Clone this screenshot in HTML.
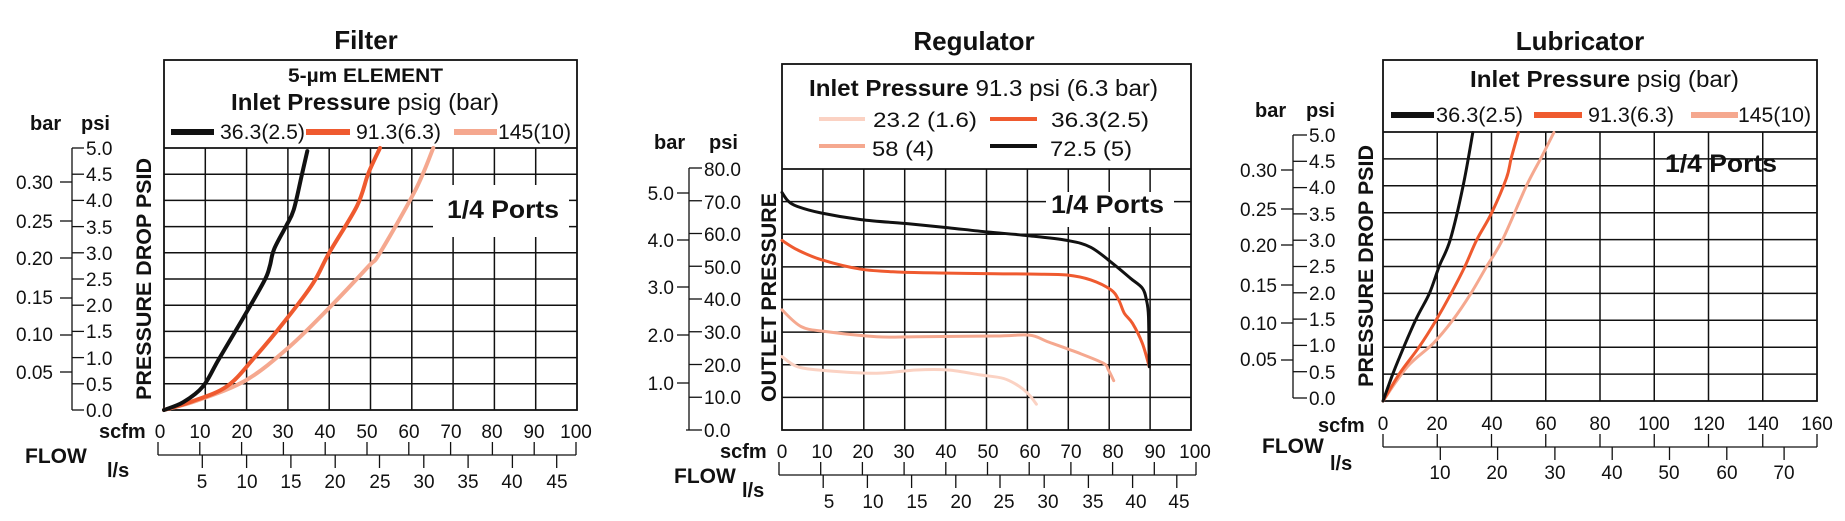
<!DOCTYPE html>
<html><head><meta charset="utf-8"><style>
html,body{margin:0;padding:0;background:#fff}
svg{display:block}
text{font-family:"Liberation Sans",Arial,sans-serif;fill:#111}
.t{font-size:26px;font-weight:bold}
.b{font-weight:bold}
.n{font-size:19px}
.lg{font-size:21px}
</style></head><body>
<svg id="s" width="1845" height="521" viewBox="0 0 1845 521" xmlns="http://www.w3.org/2000/svg">
<g id="g"></g>
<!-- ============ FILTER ============ -->
<text class="t" x="366" y="49" text-anchor="middle">Filter</text>
<text class="b" x="288" y="82" font-size="19" textLength="155" lengthAdjust="spacingAndGlyphs">5-µm ELEMENT</text>
<text x="231" y="110" font-size="23" textLength="268" lengthAdjust="spacingAndGlyphs"><tspan class="b">Inlet Pressure</tspan> psig (bar)</text>
<text class="lg" x="220" y="139" textLength="85" lengthAdjust="spacingAndGlyphs">36.3(2.5)</text>
<text class="lg" x="356" y="139" textLength="85" lengthAdjust="spacingAndGlyphs">91.3(6.3)</text>
<text class="lg" x="498" y="139" textLength="73" lengthAdjust="spacingAndGlyphs">145(10)</text>
<text class="b" x="447" y="218" font-size="25" textLength="112" lengthAdjust="spacingAndGlyphs">1/4 Ports</text>
<text class="b" x="30" y="130" font-size="20">bar</text>
<text class="b" x="81" y="130" font-size="20">psi</text>
<g class="n">
<text x="86" y="155">5.0</text><text x="86" y="181">4.5</text><text x="86" y="207">4.0</text><text x="86" y="234">3.5</text><text x="86" y="260">3.0</text><text x="86" y="286">2.5</text><text x="86" y="312">2.0</text><text x="86" y="338">1.5</text><text x="86" y="365">1.0</text><text x="86" y="391">0.5</text><text x="86" y="417">0.0</text>
</g>
<g class="n" text-anchor="end">
<text x="53" y="189">0.30</text><text x="53" y="228">0.25</text><text x="53" y="265">0.20</text><text x="53" y="304">0.15</text><text x="53" y="341">0.10</text><text x="53" y="379">0.05</text>
</g>
<text class="b" font-size="21" transform="translate(151,400) rotate(-90)" textLength="242" lengthAdjust="spacingAndGlyphs">PRESSURE DROP PSID</text>
<text class="b" x="99" y="438" font-size="20">scfm</text>
<text class="b" x="25" y="463" font-size="21">FLOW</text>
<text class="b" x="107" y="477" font-size="20">l/s</text>
<g class="n" text-anchor="middle">
<text x="160" y="438">0</text><text x="200" y="438">10</text><text x="242" y="438">20</text><text x="283" y="438">30</text><text x="325" y="438">40</text><text x="367" y="438">50</text><text x="409" y="438">60</text><text x="451" y="438">70</text><text x="492" y="438">80</text><text x="534" y="438">90</text><text x="576" y="438">100</text>
<text x="202" y="488">5</text><text x="247" y="488">10</text><text x="291" y="488">15</text><text x="335" y="488">20</text><text x="380" y="488">25</text><text x="424" y="488">30</text><text x="468" y="488">35</text><text x="512" y="488">40</text><text x="557" y="488">45</text>
</g>
<!-- ============ REGULATOR ============ -->
<text class="t" x="974" y="50" text-anchor="middle">Regulator</text>
<text x="809" y="96" font-size="23" textLength="349" lengthAdjust="spacingAndGlyphs"><tspan class="b">Inlet Pressure</tspan> 91.3 psi (6.3 bar)</text>
<text class="lg" x="873" y="127" textLength="104" lengthAdjust="spacingAndGlyphs">23.2 (1.6)</text>
<text class="lg" x="1051" y="127" textLength="98" lengthAdjust="spacingAndGlyphs">36.3(2.5)</text>
<text class="lg" x="872" y="156" textLength="62" lengthAdjust="spacingAndGlyphs">58 (4)</text>
<text class="lg" x="1050" y="156" textLength="82" lengthAdjust="spacingAndGlyphs">72.5 (5)</text>
<text class="b" x="1051" y="213" font-size="25" textLength="113" lengthAdjust="spacingAndGlyphs">1/4 Ports</text>
<text class="b" x="654" y="149" font-size="20">bar</text>
<text class="b" x="709" y="149" font-size="20">psi</text>
<g class="n">
<text x="704" y="176">80.0</text><text x="704" y="209">70.0</text><text x="704" y="241">60.0</text><text x="704" y="274">50.0</text><text x="704" y="306">40.0</text><text x="704" y="339">30.0</text><text x="704" y="372">20.0</text><text x="704" y="404">10.0</text><text x="704" y="437">0.0</text>
</g>
<g class="n" text-anchor="end">
<text x="674" y="200">5.0</text><text x="674" y="247">4.0</text><text x="674" y="294">3.0</text><text x="674" y="342">2.0</text><text x="674" y="390">1.0</text>
</g>
<text class="b" font-size="21" transform="translate(776,402) rotate(-90)" textLength="209" lengthAdjust="spacingAndGlyphs">OUTLET PRESSURE</text>
<text class="b" x="720" y="458" font-size="20">scfm</text>
<text class="b" x="674" y="483" font-size="21">FLOW</text>
<text class="b" x="742" y="497" font-size="20">l/s</text>
<g class="n" text-anchor="middle">
<text x="782" y="458">0</text><text x="822" y="458">10</text><text x="863" y="458">20</text><text x="904" y="458">30</text><text x="946" y="458">40</text><text x="988" y="458">50</text><text x="1030" y="458">60</text><text x="1071" y="458">70</text><text x="1113" y="458">80</text><text x="1155" y="458">90</text><text x="1195" y="458">100</text>
<text x="829" y="508">5</text><text x="873" y="508">10</text><text x="917" y="508">15</text><text x="961" y="508">20</text><text x="1004" y="508">25</text><text x="1048" y="508">30</text><text x="1093" y="508">35</text><text x="1136" y="508">40</text><text x="1179" y="508">45</text>
</g>
<!-- ============ LUBRICATOR ============ -->
<text class="t" x="1580" y="50" text-anchor="middle">Lubricator</text>
<text x="1470" y="87" font-size="23" textLength="269" lengthAdjust="spacingAndGlyphs"><tspan class="b">Inlet Pressure</tspan> psig (bar)</text>
<text class="lg" x="1436" y="122" textLength="87" lengthAdjust="spacingAndGlyphs">36.3(2.5)</text>
<text class="lg" x="1588" y="122" textLength="86" lengthAdjust="spacingAndGlyphs">91.3(6.3)</text>
<text class="lg" x="1738" y="122" textLength="73" lengthAdjust="spacingAndGlyphs">145(10)</text>
<text class="b" x="1665" y="172" font-size="25" textLength="112" lengthAdjust="spacingAndGlyphs">1/4 Ports</text>
<text class="b" x="1255" y="117" font-size="20">bar</text>
<text class="b" x="1306" y="117" font-size="20">psi</text>
<g class="n">
<text x="1309" y="142">5.0</text><text x="1309" y="168">4.5</text><text x="1309" y="194">4.0</text><text x="1309" y="221">3.5</text><text x="1309" y="247">3.0</text><text x="1309" y="273">2.5</text><text x="1309" y="300">2.0</text><text x="1309" y="326">1.5</text><text x="1309" y="352">1.0</text><text x="1309" y="379">0.5</text><text x="1309" y="405">0.0</text>
</g>
<g class="n" text-anchor="end">
<text x="1277" y="177">0.30</text><text x="1277" y="216">0.25</text><text x="1277" y="252">0.20</text><text x="1277" y="292">0.15</text><text x="1277" y="330">0.10</text><text x="1277" y="366">0.05</text>
</g>
<text class="b" font-size="21" transform="translate(1373,387) rotate(-90)" textLength="242" lengthAdjust="spacingAndGlyphs">PRESSURE DROP PSID</text>
<text class="b" x="1318" y="432" font-size="20">scfm</text>
<text class="b" x="1262" y="453" font-size="21">FLOW</text>
<text class="b" x="1330" y="470" font-size="20">l/s</text>
<g class="n" text-anchor="middle">
<text x="1383" y="430">0</text><text x="1437" y="430">20</text><text x="1492" y="430">40</text><text x="1546" y="430">60</text><text x="1600" y="430">80</text><text x="1654" y="430">100</text><text x="1709" y="430">120</text><text x="1763" y="430">140</text><text x="1817" y="430">160</text>
<text x="1440" y="479">10</text><text x="1497" y="479">20</text><text x="1555" y="479">30</text><text x="1612" y="479">40</text><text x="1669" y="479">50</text><text x="1727" y="479">60</text><text x="1784" y="479">70</text>
</g>
</svg>
<script>
var NS="http://www.w3.org/2000/svg",g=document.getElementById("g");
function el(n,a){var e=document.createElementNS(NS,n);for(var k in a)e.setAttribute(k,a[k]);g.appendChild(e);return e;}
function L(x1,y1,x2,y2,w,c){el("line",{x1:x1,y1:y1,x2:x2,y2:y2,stroke:c||"#111","stroke-width":w||1.5});}
function smooth(P){
  var d="M"+P[0][0].toFixed(1)+","+P[0][1].toFixed(1);
  for(var i=0;i<P.length-1;i++){
    var p0=P[i>0?i-1:0],p1=P[i],p2=P[i+1],p3=P[i+2<P.length?i+2:i+1];
    var c1x=p1[0]+(p2[0]-p0[0])/6,c1y=p1[1]+(p2[1]-p0[1])/6,c2x=p2[0]-(p3[0]-p1[0])/6,c2y=p2[1]-(p3[1]-p1[1])/6;
    d+=" C"+c1x.toFixed(1)+","+c1y.toFixed(1)+" "+c2x.toFixed(1)+","+c2y.toFixed(1)+" "+p2[0].toFixed(1)+","+p2[1].toFixed(1);
  }
  return d;
}
function plot(p){
  for(var i=1;i<p.nx;i++){var x=p.x0+(p.x1-p.x0)*i/p.nx;L(x,p.y0,x,p.y1);}
  for(var j=1;j<p.ny;j++){var y=p.y0+(p.y1-p.y0)*j/p.ny;L(p.x0,y,p.x1,y);}
  if(p.box)el("rect",{x:p.box[0],y:p.box[1],width:p.box[2],height:p.box[3],fill:"#fff"});
  el("rect",{x:p.x0,y:p.ly,width:p.x1-p.x0,height:p.y1-p.ly,fill:"none",stroke:"#111","stroke-width":1.8});
  L(p.x0,p.y0,p.x1,p.y0,1.8);
  p.series.forEach(function(s){
    var P=s.d.map(function(q){return [p.x0+(p.x1-p.x0)*q[0]/p.xm,p.y1-(p.y1-p.y0)*q[1]/p.ym];});
    el("path",{d:p.sm?smooth(P):smooth(P),fill:"none",stroke:s.c,"stroke-width":s.w,"stroke-linejoin":"round","stroke-linecap":"round"});
  });
  p.leg.forEach(function(l){L(l[0],l[2],l[1],l[2],l[4],l[3]);});
}
var K="#111",O="#ef5a2f",P="#f5a88f",PL="#fbd2c3";
plot({x0:164,x1:577,y0:148,y1:410,ly:60,nx:10,ny:10,xm:100,ym:5,box:[433,185,136,52],
 series:[
 {c:P,w:4,d:[[0,0],[8,.18],[19.9,.57],[30.4,1.21],[39.9,1.94],[49.5,2.74],[52.3,3],[60.9,4.2],[65.2,5]]},
 {c:O,w:4,d:[[0,0],[7,.17],[15.2,.45],[21.8,.99],[29.5,1.72],[36.1,2.42],[40,3],[46.7,3.89],[49.5,4.52],[52.3,5]]},
 {c:K,w:4,d:[[0,0],[4.7,.15],[9.45,.45],[13.2,.96],[18.9,1.72],[24.2,2.45],[25.6,2.74],[26.6,3.06],[29.5,3.5],[31.4,3.82],[33.3,4.46],[34.7,4.94]]}],
 leg:[[171,214,132,K,6],[306,350,132,O,6],[454,497,132,P,6]]});
plot({x0:782,x1:1191,y0:169,y1:430,ly:64,nx:10,ny:8,xm:100,ym:80,box:[1046,192,128,35],
 series:[
 {c:PL,w:3,d:[[0,22.5],[3.8,19.4],[10.6,18.2],[23.2,17.4],[32.8,18.4],[40.6,18.4],[48.4,16.9],[54.2,15.8],[58.1,13.3],[60.5,10.7],[62.2,7.9]]},
 {c:P,w:3,d:[[0,36.8],[4.7,31.7],[10.6,30.2],[23.2,28.6],[32.8,28.6],[52.2,28.8],[60.5,29.1],[64.9,27.1],[71.7,24],[78.5,20.5],[79.8,18.4],[81.1,15.1]]},
 {c:O,w:3,d:[[0,58.1],[3.8,55.2],[9.6,52.2],[19.3,49.3],[29,48.4],[40.6,48.1],[52.2,47.9],[61.9,47.8],[69.7,47.5],[75.5,46],[80.4,43],[82.3,39.9],[83.7,35.8],[85.7,32.7],[88.1,26.6],[89.8,19.4]]},
 {c:K,w:3,d:[[0,72.8],[1.5,70.2],[3.8,68.5],[9.6,66.5],[19.3,64.5],[30.9,63.2],[40.6,62],[50.3,60.7],[60,59.6],[69.7,58.1],[75.5,56],[81.3,50.6],[85.2,46.5],[88.1,43.5],[89.1,39.9],[89.6,34.8],[89.8,19.4]]}],
 leg:[[819,865,119,PL,4],[990,1037,119,O,4],[819,865,146,P,4],[990,1037,146,K,4]]});
plot({x0:1383,x1:1817,y0:132,y1:401,ly:60,nx:8,ny:10,xm:160,ym:5,
 series:[
 {c:P,w:3,d:[[0,0],[9,.64],[18.5,1.07],[25.8,1.51],[32.4,2],[38.2,2.5],[44.1,3],[52.8,3.99],[58.6,4.55],[63,4.99]]},
 {c:O,w:3,d:[[0,0],[6.1,.51],[13.4,1.01],[19.3,1.48],[25.1,2],[30.2,2.5],[34.6,3],[40,3.49],[45.5,4.14],[47.3,4.52],[49.9,4.99]]},
 {c:K,w:3,d:[[0,0],[4.7,.64],[12,1.5],[17.1,2],[20.7,2.5],[24.8,3],[29.5,3.99],[33.1,4.99]]}],
 leg:[[1391,1434,115,K,6],[1534,1582,115,O,6],[1691,1738,115,P,6]]});
function yax(ax,top,bot,n,tl,tr,bars,bl){
  L(ax,top,ax,bot,1.3);
  for(var i=0;i<=n;i++){var y=top+(bot-top)*i/n;L(ax,y,tr,y,1.3);}
  bars.forEach(function(y){L(bl,y,ax,y,1.3);});
}
yax(72,148,410,10,72,84,[182,221,258,298,335,372],60);
yax(689,168,430,8,689,702,[193,240,287,335,383],677);
L(686,430,689,430,1.3);
yax(1293,135,398,10,1293,1307,[170,209,245,285,323,360],1281);
function xax(x0,x1,y,up,dn,ticks,lticks){
  L(x0,y,x1,y,1.3);
  ticks.forEach(function(x){L(x,y,x,up,1.3);});
  lticks.forEach(function(x){L(x,y,x,dn,1.3);});
}
var a=[],b=[],i;
for(i=0;i<=10;i++)a.push(158+i*41.8);for(i=1;i<=9;i++)b.push(158+i*5*8.86);
xax(158,576,455,442,468,a,b);
a=[];b=[];for(i=0;i<=10;i++)a.push(779+i*41.7);for(i=1;i<=9;i++)b.push(779+i*5*8.84);
xax(779,1196,475,462,488,a,b);
a=[];b=[];for(i=0;i<=8;i++)a.push(1383+i*54.25);for(i=1;i<=7;i++)b.push(1383+i*57.3);
xax(1383,1817,447,434,460,a,b);
</script>
</body></html>
